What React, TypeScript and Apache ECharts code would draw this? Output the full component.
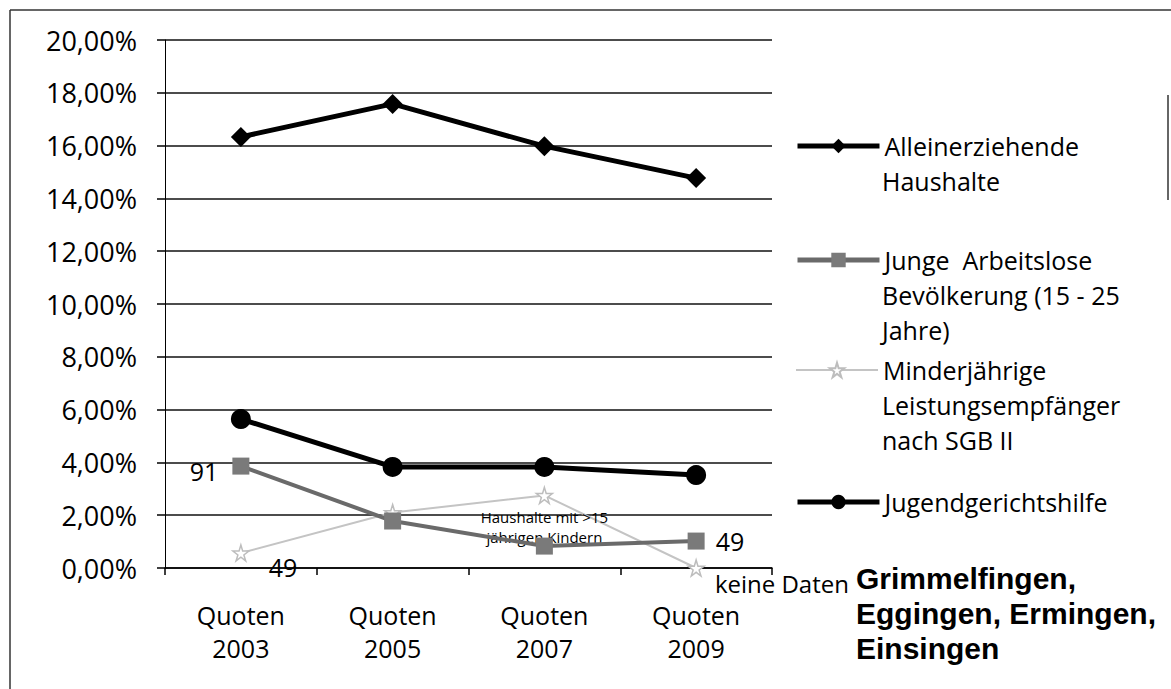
import React, { useEffect, useRef } from "react";
import * as echarts from "echarts";

const categories = ["Quoten\n2003", "Quoten\n2005", "Quoten\n2007", "Quoten\n2009"];
const yTicks = [0, 2, 4, 6, 8, 10, 12, 14, 16, 18, 20];
const alleinerziehende = [16.33, 17.58, 15.98, 14.77];
const jungeArbeitslose = [3.86, 1.78, 0.83, 1.02];
const minderjaehrige = [0.57, 2.1, 2.75, 0.0];
const jugendgericht = [5.64, 3.83, 3.83, 3.52];
const seriesNames = [
  "Alleinerziehende Haushalte",
  "Junge Arbeitslose Bevölkerung (15 - 25 Jahre)",
  "Minderjährige Leistungsempfänger nach SGB II",
  "Jugendgerichtshilfe",
];
const legendLines = [
  ["Alleinerziehende", "Haushalte"],
  ["Junge  Arbeitslose", "Bevölkerung (15 - 25", "Jahre)"],
  ["Minderjährige", "Leistungsempfänger", "nach SGB II"],
  ["Jugendgerichtshilfe"],
];
const pointLabels = {
  junge: ["91", "", "", "49"],
  minder: ["49", "", "Haushalte mit >15\njährigen Kindern", "keine Daten"],
};
const title = "Grimmelfingen,\nEggingen, Ermingen,\nEinsingen";

const FONT = '"Open Sans", Lato, sans-serif';
const TITLE_FONT = '"Liberation Sans", Arial, sans-serif';
const STAR = "path://M50,0 L61,35 L98,35 L68,57 L79,91 L50,70 L21,91 L32,57 L2,35 L39,35 Z";

export default function App() {
  const ref = useRef<HTMLDivElement>(null);
  useEffect(() => {
    const chart = echarts.init(ref.current!, null, { renderer: "svg" });
    const firstLineY = [146, 260, 370, 502];
    const LH = 35;
    const legends = seriesNames.map((n, i) => ({
      orient: "vertical" as const,
      left: 790,
      top: firstLineY[i] - LH / 2 - 5,
      itemWidth: 82,
      itemHeight: 18,
      data: [n],
      formatter: () => legendLines[i][0],
      textStyle: { fontFamily: FONT, fontSize: 25, color: "#000", lineHeight: LH },
      lineStyle: { width: i === 2 ? 2 : 5 },
      selectedMode: false,
    }));
    const extraLegendText: any[] = [];
    legendLines.forEach((lines, i) => {
      if (lines.length < 2) return;
      extraLegendText.push({
        type: "text",
        x: 882,
        y: firstLineY[i] + LH / 2,
        style: {
          text: lines.slice(1).join("\n"),
          font: `25px ${FONT}`,
          fill: "#000",
          lineHeight: LH,
          verticalAlign: "top",
          align: "left",
        },
      });
    });
    chart.setOption({
      animation: false,
      backgroundColor: "#fff",
      textStyle: { fontFamily: FONT },
      grid: { left: 165, right: 399, top: 40, bottom: 121, containLabel: false },
      xAxis: {
        type: "category",
        data: categories,
        boundaryGap: true,
        axisLine: { lineStyle: { color: "#000", width: 1.5 } },
        axisTick: { show: true, length: 7, lineStyle: { color: "#000", width: 1.5 } },
        axisLabel: { color: "#000", fontSize: 25, fontFamily: FONT, lineHeight: 33, margin: 30 },
      },
      yAxis: {
        type: "value",
        min: 0,
        max: 20,
        interval: 2,
        axisLine: { show: true, lineStyle: { color: "#000", width: 1 } },
        axisTick: { show: true, length: 8, lineStyle: { color: "#000", width: 1.5 } },
        splitLine: { lineStyle: { color: "#111", width: 1.5 } },
        axisLabel: {
          color: "#000",
          fontSize: 27,
          fontFamily: FONT,
          margin: 28,
          formatter: (v: number) => (yTicks.includes(v) ? v.toFixed(2).replace(".", ",") + "%" : ""),
        },
      },
      legend: legends,
      series: [
        {
          name: seriesNames[0],
          type: "line",
          data: alleinerziehende,
          symbol: "diamond",
          symbolSize: 20,
          lineStyle: { color: "#000", width: 5 },
          itemStyle: { color: "#000" },
          z: 4,
        },
        {
          name: seriesNames[1],
          type: "line",
          data: jungeArbeitslose.map((v, i) => ({
            value: v,
            label: {
              show: pointLabels.junge[i] !== "",
              formatter: pointLabels.junge[i],
              position: i === 0 ? "left" : "right",
              distance: i === 0 ? 14 : 11,
              offset: i === 0 ? [0, 5] : [0, 0],
              fontSize: 25,
              color: "#000",
              fontFamily: FONT,
            },
          })),
          symbol: "rect",
          symbolSize: 17,
          lineStyle: { color: "#6a6a6a", width: 4 },
          itemStyle: { color: "#7a7a7a" },
          z: 3,
        },
        {
          name: seriesNames[2],
          type: "line",
          data: minderjaehrige.map((v, i) => {
            const lab: any = {
              show: pointLabels.minder[i] !== "",
              formatter: pointLabels.minder[i],
              color: "#000",
              fontFamily: FONT,
              fontSize: 25,
            };
            if (i === 0) { lab.position = "right"; lab.distance = 5; lab.offset = [14, 14]; }
            if (i === 2) { lab.position = "bottom"; lab.distance = 3; lab.fontSize = 15; lab.lineHeight = 20; lab.align = "center"; }
            if (i === 3) { lab.position = "right"; lab.distance = 10; lab.offset = [0, 15]; lab.fontSize = 24; }
            return { value: v, label: lab };
          }),
          symbol: STAR,
          symbolSize: 16,
          lineStyle: { color: "#c4c4c4", width: 2 },
          itemStyle: { color: "#fff", borderColor: "#bdbdbd", borderWidth: 1.5 },
          z: 2,
        },
        {
          name: seriesNames[3],
          type: "line",
          data: jugendgericht,
          symbol: "circle",
          symbolSize: 20,
          lineStyle: { color: "#000", width: 5 },
          itemStyle: { color: "#000" },
          z: 4,
        },
      ],
      graphic: [
        { type: "line", shape: { x1: 10, y1: 10, x2: 1171, y2: 10 }, style: { stroke: "#333", lineWidth: 1.5 } },
        { type: "line", shape: { x1: 10, y1: 10, x2: 10, y2: 689 }, style: { stroke: "#333", lineWidth: 1.5 } },
        { type: "line", shape: { x1: 1168, y1: 95, x2: 1168, y2: 200 }, style: { stroke: "#333", lineWidth: 1.5 } },
        ...extraLegendText,
        {
          type: "text",
          x: 856,
          y: 578 - LH / 2,
          style: { text: title, font: `bold 30px ${TITLE_FONT}`, fill: "#000", lineHeight: LH, verticalAlign: "top", align: "left" },
        },
      ],
    });
    return () => chart.dispose();
  }, []);
  return <div ref={ref} style={{ position: "fixed", left: 0, top: 0, width: 1171, height: 689 }} />;
}
